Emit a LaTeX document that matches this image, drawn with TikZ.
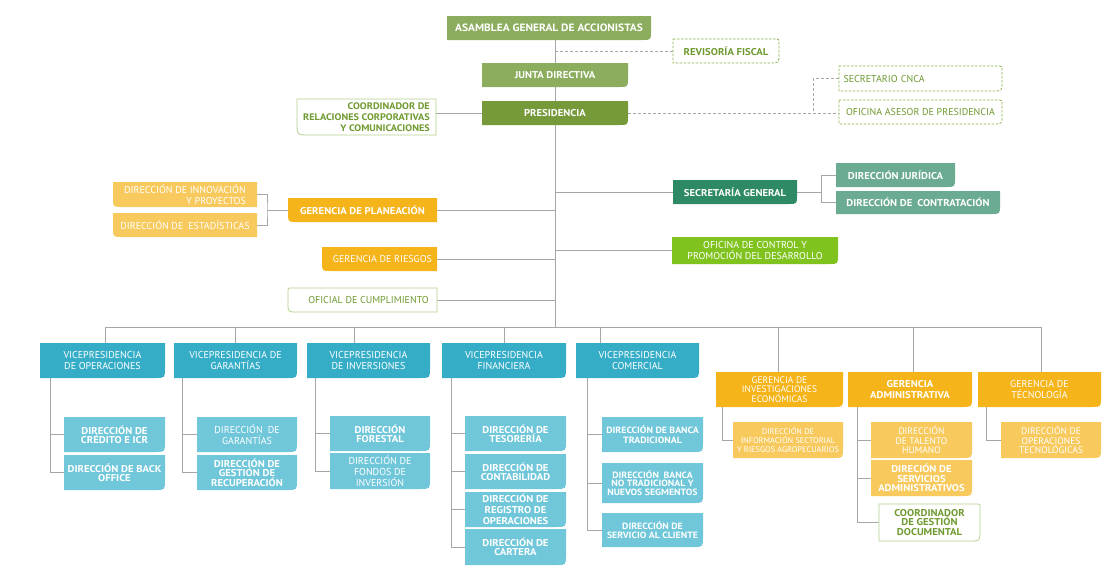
\documentclass[tikz,border=0pt]{standalone}
\usepackage{fontspec}
\setmainfont{PT Sans}[BoldFeatures={FakeStretch=1.08}]
\pgfdeclarelayer{background}
\pgfsetlayers{background,main}
\definecolor{cgA}{HTML}{8CAD5E}
\definecolor{cgP}{HTML}{76993A}
\definecolor{ctext}{HTML}{6F9A30}
\definecolor{cout}{HTML}{B5D08F}
\definecolor{cdash}{HTML}{8AB04A}
\definecolor{csg}{HTML}{2D8A64}
\definecolor{cjur}{HTML}{6AAB92}
\definecolor{corg}{HTML}{F5B41A}
\definecolor{clorg}{HTML}{F8CA5E}
\definecolor{cctl}{HTML}{80C31E}
\definecolor{cvp}{HTML}{36ADC7}
\definecolor{csub}{HTML}{70C7DA}
\definecolor{cline}{HTML}{A6A6A6}
\newcommand\fr{\fontsize{10}{11}\selectfont}
\newcommand\fb{\fontsize{9.9}{11}\selectfont\bfseries}
\newcommand\fbt{\fontsize{9.9}{9.3}\selectfont\bfseries}
\newcommand\fbc{\fontsize{9.1}{9.6}\selectfont\bfseries}
\newcommand\fsm{\fontsize{9.5}{9.2}\selectfont}
\newcommand\fxs{\fontsize{8.3}{8.6}\selectfont}
\def\orgparse#1/#2/#3/#4\relax{\def\rtl{#1}\def\rtr{#2}\def\rbr{#3}\def\rbl{#4}}
\newcommand\orgbox[8]{%
  \orgparse#7\relax
  \path[#1] ({#3+\rtl},#4) -- ({#5-\rtr},#4) .. controls (#5,#4) .. (#5,{#4+\rtr})
    -- (#5,{#6-\rbr}) .. controls (#5,#6) .. ({#5-\rbr},#6)
    -- ({#3+\rbl},#6) .. controls (#3,#6) .. (#3,{#6-\rbl})
    -- (#3,{#4+\rtl}) .. controls (#3,#4) .. ({#3+\rtl},#4) -- cycle;
  \node[inner xsep=3pt, inner ysep=0pt, #1, fill=none, draw=none,
        minimum width={(#5-#3)*1pt}, minimum height={(#6-#4)*1pt}]
        (#2) at ({(#3+#5)/2},{(#4+#6)/2}) {#8};
}
\tikzset{
  base/.style={text=white, align=center, font=\fr},
  bf/.style={font=\fb},
  bft/.style={font=\fbt},
  gA/.style={base, fill=cgA, bf},
  gP/.style={base, fill=cgP, bf},
  dashbox/.style={base, fill=white, draw=cdash, dashed, dash pattern=on 2.5pt off 1.5pt, line width=0.8pt, text=ctext},
  outbox/.style={base, fill=white, draw=cout, line width=0.8pt, text=ctext},
  sg/.style={base, fill=csg, bf},
  jur/.style={base, fill=cjur, bf},
  org/.style={base, fill=corg},
  lorg/.style={base, fill=clorg},
  ctl/.style={base, fill=cctl},
  vp/.style={base, fill=cvp},
  sub/.style={base, fill=csub},
  line/.style={draw=cline, line width=0.8pt},
  dline/.style={line, dashed, dash pattern=on 3pt off 2pt},
}
\begin{document}
\begin{tikzpicture}[x=1pt,y=-1pt]
\useasboundingbox (0,0) rectangle (1113,576);
% top
\orgbox{gA,font=\fontsize{10.6}{11}\selectfont\bfseries}{asamblea}{447}{16}{651}{40}{0/0/9/0}{ASAMBLEA GENERAL DE ACCIONISTAS}
\orgbox{dashbox,bf}{revisoria}{673}{39}{779}{63}{0/5/9/0}{REVISORÍA FISCAL}
\orgbox{gA}{junta}{482}{63}{628}{87}{0/0/9/0}{JUNTA DIRECTIVA}
\orgbox{gP}{presidencia}{482}{101}{628}{125}{0/0/9/0}{PRESIDENCIA}
\orgbox{outbox,align=right,font=\fontsize{9.5}{11.3}\selectfont\bfseries}{coordrel}{297}{99}{436}{135}{0/0/0/12}{COORDINADOR DE\\RELACIONES CORPORATIVAS\\Y COMUNICACIONES}
\orgbox{dashbox,align=left,text width=154pt}{cnca}{839}{66}{1002}{91}{0/5/9/0}{SECRETARIO CNCA}
\orgbox{dashbox}{asesor}{839}{100}{1002}{124}{0/5/9/0}{OFICINA ASESOR DE PRESIDENCIA}
% middle
\orgbox{sg}{secgen}{673}{180}{797}{204}{0/0/9/0}{SECRETARÍA GENERAL}
\orgbox{jur}{juridica}{836}{163}{955}{187}{0/0/9/0}{DIRECCIÓN JURÍDICA}
\orgbox{jur}{contratacion}{836}{191}{1000}{214}{0/0/9/0}{DIRECCIÓN DE\enspace CONTRATACIÓN}
\orgbox{lorg,align=right}{innov}{113}{182}{257}{207}{0/0/0/9}{DIRECCIÓN DE INNOVACIÓN\\Y PROYECTOS}
\orgbox{lorg,align=right}{estad}{113}{213}{257}{237}{0/0/0/9}{DIRECCIÓN DE\enspace ESTADÍSTICAS}
\orgbox{org,bf}{planeacion}{288}{198}{437}{222}{0/0/0/9}{GERENCIA DE PLANEACIÓN}
\orgbox{org}{riesgos}{322}{247}{437}{271}{0/0/0/9}{\hspace*{6pt}GERENCIA DE RIESGOS}
\orgbox{ctl}{control}{672}{237}{838}{264}{0/0/9/0}{OFICINA DE CONTROL Y\\PROMOCIÓN DEL DESARROLLO}
\orgbox{outbox}{oficial}{288}{288}{437}{312}{4/0/0/9}{\hspace*{12pt}OFICIAL DE CUMPLIMIENTO}
% VPs and gerencias
\orgbox{vp}{vpop}{40}{343}{165}{378}{0/0/10/0}{VICEPRESIDENCIA\\DE OPERACIONES}
\orgbox{vp}{vpgar}{174}{343}{297}{378}{0/0/10/0}{VICEPRESIDENCIA DE\\GARANTÍAS}
\orgbox{vp}{vpinv}{307}{343}{430}{378}{0/0/10/0}{VICEPRESIDENCIA\\DE INVERSIONES}
\orgbox{vp}{vpfin}{442}{343}{566}{378}{0/0/10/0}{VICEPRESIDENCIA\\FINANCIERA}
\orgbox{vp}{vpcom}{576}{343}{699}{378}{0/0/10/0}{VICEPRESIDENCIA\\COMERCIAL}
\orgbox{org,font=\fsm}{geinv}{716}{372}{843}{407}{0/0/10/0}{GERENCIA DE\\INVESTIGACIONES\\ECONÓMICAS}
\orgbox{org,bf}{geadm}{848}{372}{972}{407}{0/0/10/0}{GERENCIA\\ADMINISTRATIVA}
\orgbox{org}{getec}{978}{372}{1101}{407}{0/0/10/0}{GERENCIA DE\\TÉCNOLOGÍA}
% subs
\orgbox{sub,bft}{credito}{64}{417}{165}{452}{0/0/10/0}{DIRECCIÓN DE\\CRÉDITO E ICR}
\orgbox{sub,bft}{backoffice}{64}{455}{165}{490}{0/0/10/0}{DIRECCIÓN DE BACK\\OFFICE}
\orgbox{sub}{dgar}{197}{417}{297}{452}{0/0/10/0}{DIRECCIÓN\enspace DE\\GARANTÍAS}
\orgbox{sub,bft}{recup}{197}{455}{297}{490}{0/0/10/0}{DIRECCIÓN DE\\GESTIÓN DE\\RECUPERACIÓN}
\orgbox{sub,bft}{forestal}{330}{416}{430}{451}{0/0/10/0}{DIRECCIÓN\\FORESTAL}
\orgbox{sub}{fondos}{330}{453}{430}{489}{0/0/10/0}{DIRECCIÓN DE\\FONDOS DE\\INVERSIÓN}
\orgbox{sub,bft}{tesoreria}{465}{416}{566}{451}{0/0/10/0}{DIRECCIÓN DE\\TESORERÍA}
\orgbox{sub,bft}{contab}{465}{454}{566}{489}{0/0/10/0}{DIRECCIÓN DE\\CONTABILIDAD}
\orgbox{sub,bf}{registro}{465}{492}{566}{527}{0/0/10/0}{DIRECCIÓN DE\\REGISTRO DE\\OPERACIONES}
\orgbox{sub,bft}{cartera}{465}{529}{566}{565}{0/0/10/0}{DIRECCIÓN DE\\CARTERA}
\orgbox{sub,font=\fbc}{bancatrad}{602}{417}{703}{452}{0/0/10/0}{DIRECCIÓN DE BANCA\\TRADICIONAL}
\orgbox{sub,font=\fontsize{9.1}{8.9}\selectfont\bfseries}{bancanotrad}{602}{463}{703}{503}{0/0/10/0}{DIRECCIÓN\enspace BANCA\\NO TRADICIONAL Y\\NUEVOS SEGMENTOS}
\orgbox{sub,font=\fbc}{servicio}{602}{513}{703}{547}{0/0/10/0}{DIRECCIÓN DE\\SERVICIO AL CLIENTE}
\orgbox{lorg,font=\fxs}{infosect}{733}{422}{843}{458}{0/0/10/0}{DIRECCIÓN DE\\INFORMACIÓN SECTORIAL\\Y RIESGOS AGROPECUARIOS}
\orgbox{lorg,font=\fsm}{talento}{871}{422}{972}{458}{0/0/10/0}{DIRECCIÓN\\DE TALENTO\\HUMANO}
\orgbox{lorg,bft}{servadm}{871}{460}{972}{496}{0/0/10/0}{DIRECIÓN DE\\SERVICIOS\\ADMINISTRATIVOS}
\orgbox{outbox,bft}{gestiondoc}{879}{504}{980}{541}{0/4/10/0}{COORDINADOR\\DE GESTIÓN\\DOCUMENTAL}
\orgbox{lorg,font=\fsm}{opertec}{1001}{422}{1101}{458}{0/0/10/0}{DIRECCIÓN DE\\OPERACIONES\\TECNOLÓGICAS}
% connectors
\begin{pgfonlayer}{background}
\coordinate (bus) at (555,327);
\draw[line] (asamblea.south -| bus) -- (bus);
\draw[dline] (revisoria.west) -- (revisoria.west -| bus);
\draw[line] (presidencia.west) -- (presidencia.west -| coordrel.east);
\coordinate (dj) at (813,112);
\draw[dline] (presidencia.east) -- (presidencia.east -| asesor.west);
\draw[dline] (cnca.west) -| (dj);
\draw[line] (secgen.west -| bus) -- (secgen.west);
\coordinate (sj) at (821,190);
\draw[line] (secgen.east) -- (secgen.east -| sj);
\draw[line] (juridica.west) -| (sj) |- (contratacion.west);
\draw[line] (planeacion.east) -- (planeacion.east -| bus);
\coordinate (pj) at (267,210);
\draw[line] (innov.east) -| (pj) |- (estad.east);
\draw[line] (pj) -- (planeacion.west);
\draw[line] (riesgos.east) -- (riesgos.east -| bus);
\draw[line] (control.west -| bus) -- (control.west);
\draw[line] (oficial.east) -- (oficial.east -| bus);
% bus
\coordinate (b1) at (105,327);
\coordinate (b2) at (235,327);
\coordinate (b3) at (354,327);
\coordinate (b4) at (504,327);
\coordinate (b5) at (600,327);
\coordinate (b6) at (778,327);
\coordinate (b7) at (913,327);
\coordinate (b8) at (1041,327);
\draw[line] (b1) -- (b8);
\draw[line] (b1) -- (vpop.north -| b1);
\draw[line] (b2) -- (vpgar.north -| b2);
\draw[line] (b3) -- (vpinv.north -| b3);
\draw[line] (b4) -- (vpfin.north -| b4);
\draw[line] (b5) -- (vpcom.north -| b5);
\draw[line] (b6) -- (geinv.north -| b6);
\draw[line] (b7) -- (geadm.north -| b7);
\draw[line] (b8) -- (getec.north -| b8);
% sub trees
\draw[line] ([xshift=11pt]vpop.south west) |- (backoffice.west);
\draw[line] (credito.west) -| ([xshift=11pt]vpop.south west);
\draw[line] ([xshift=9pt]vpgar.south west) |- (recup.west);
\draw[line] (dgar.west) -| ([xshift=9pt]vpgar.south west);
\draw[line] ([xshift=9pt]vpinv.south west) |- (fondos.west);
\draw[line] (forestal.west) -| ([xshift=9pt]vpinv.south west);
\draw[line] ([xshift=10pt]vpfin.south west) |- (cartera.west);
\draw[line] (tesoreria.west) -| ([xshift=10pt]vpfin.south west);
\draw[line] (contab.west) -| ([xshift=10pt]vpfin.south west);
\draw[line] (registro.west) -| ([xshift=10pt]vpfin.south west);
\draw[line] ([xshift=12pt]vpcom.south west) |- (servicio.west);
\draw[line] (bancatrad.west) -| ([xshift=12pt]vpcom.south west);
\draw[line] (bancanotrad.west) -| ([xshift=12pt]vpcom.south west);
\draw[line] ([xshift=7pt]geinv.south west) |- (infosect.west);
\draw[line] ([xshift=10pt]geadm.south west) |- (gestiondoc.west);
\draw[line] (talento.west) -| ([xshift=10pt]geadm.south west);
\draw[line] (servadm.west) -| ([xshift=10pt]geadm.south west);
\draw[line] ([xshift=9pt]getec.south west) |- (opertec.west);
\end{pgfonlayer}
\end{tikzpicture}
\end{document}
